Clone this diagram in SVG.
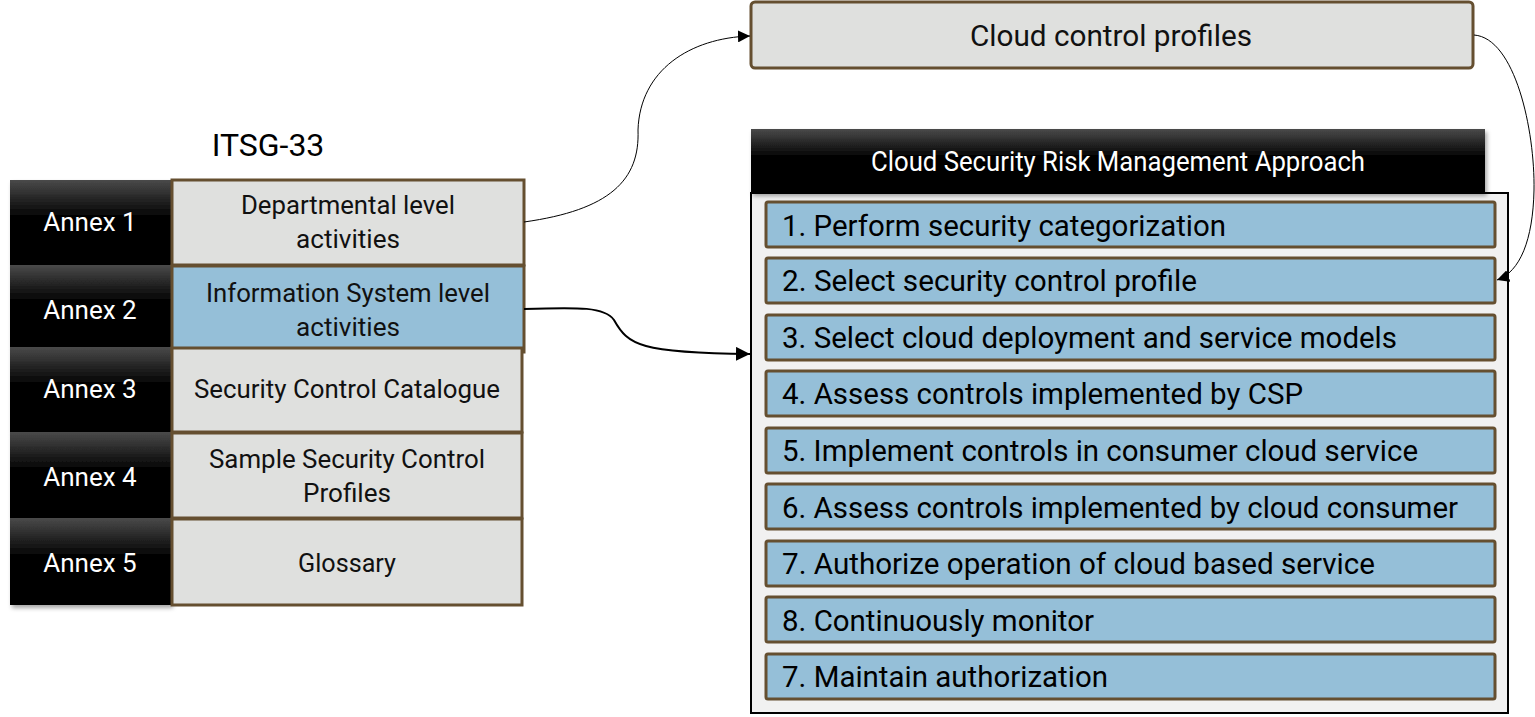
<svg xmlns="http://www.w3.org/2000/svg" width="1535" height="717" viewBox="0 0 1535 717">
<style>
text{font-family:Roboto,"Liberation Sans",sans-serif}
.an{fill:url(#gblk);filter:url(#sh)}
.at{fill:#fff;font-size:26px;text-anchor:middle}
.box{fill:#dfe0de;stroke:#654f30;stroke-width:3}
.blue{fill:#95bfd8;stroke:#654f30;stroke-width:3}
.bt{fill:#111;font-size:26px;text-anchor:middle}
.it{fill:#000;font-size:30px}
</style>
<defs>
<linearGradient id="gblk" x1="0" y1="0" x2="0" y2="1"><stop offset="0" stop-color="#4a4a4a"/><stop offset="0.45" stop-color="#000"/><stop offset="1" stop-color="#000"/></linearGradient>
<filter id="sh" x="-5%" y="-5%" width="115%" height="120%"><feDropShadow dx="2" dy="3" stdDeviation="2" flood-color="#000" flood-opacity="0.35"/></filter>
<marker id="ah" viewBox="0 0 10 10" refX="10" refY="5" markerWidth="12" markerHeight="12" markerUnits="userSpaceOnUse" orient="auto"><path d="M0,0L10,5L0,10z" fill="#000"/></marker>
<marker id="ah2" viewBox="0 0 10 10" refX="10" refY="5" markerWidth="7" markerHeight="7" markerUnits="strokeWidth" orient="auto"><path d="M0,0L10,5L0,10z" fill="#000"/></marker>
</defs>
<text x="268" y="156" font-size="32" text-anchor="middle" fill="#000">ITSG-33</text>
<g id="annex1"><rect class="an" x="10" y="180" width="161" height="85"/><text class="at" x="90" y="231">Annex 1</text></g>
<g id="annex2"><rect class="an" x="10" y="265" width="161" height="82"/><text class="at" x="90" y="319">Annex 2</text></g>
<g id="annex3"><rect class="an" x="10" y="347" width="161" height="85"/><text class="at" x="90" y="398">Annex 3</text></g>
<g id="annex4"><rect class="an" x="10" y="432" width="161" height="86"/><text class="at" x="90" y="486">Annex 4</text></g>
<g id="annex5"><rect class="an" x="10" y="518" width="161" height="87"/><text class="at" x="90" y="572">Annex 5</text></g>
<g id="dept"><rect class="box" x="172" y="180" width="352" height="85"/><text class="bt" x="348" y="214" textLength="214" lengthAdjust="spacingAndGlyphs">Departmental level</text><text class="bt" x="348" y="248" textLength="104" lengthAdjust="spacingAndGlyphs">activities</text></g>
<g id="infosys"><rect class="blue" x="172" y="266" width="352" height="86"/><text class="bt" x="348" y="302" textLength="284" lengthAdjust="spacingAndGlyphs">Information System level</text><text class="bt" x="348" y="336" textLength="104" lengthAdjust="spacingAndGlyphs">activities</text></g>
<g id="catalogue"><rect class="box" x="172" y="348" width="350" height="84"/><text class="bt" x="347" y="398" textLength="306" lengthAdjust="spacingAndGlyphs">Security Control Catalogue</text></g>
<g id="sample"><rect class="box" x="172" y="433" width="350" height="85"/><text class="bt" x="347" y="468" textLength="276" lengthAdjust="spacingAndGlyphs">Sample Security Control</text><text class="bt" x="347" y="502" textLength="88" lengthAdjust="spacingAndGlyphs">Profiles</text></g>
<g id="glossary"><rect class="box" x="172" y="519" width="350" height="86"/><text class="bt" x="347" y="572" textLength="98" lengthAdjust="spacingAndGlyphs">Glossary</text></g>
<g id="profiles"><rect class="box" x="751" y="2" width="722" height="66" rx="4"/><text x="1111" y="46" font-size="30" text-anchor="middle" fill="#111" textLength="282" lengthAdjust="spacingAndGlyphs">Cloud control profiles</text></g>
<g id="approach">
<rect x="751" y="193" width="757" height="520" fill="#f1f1f1" stroke="#000" stroke-width="2"/>
<rect x="751" y="129" width="734" height="64" fill="url(#gblk)" filter="url(#sh)"/>
<text x="1118" y="171" font-size="27" fill="#fff" text-anchor="middle" textLength="494" lengthAdjust="spacingAndGlyphs">Cloud Security Risk Management Approach</text>
</g>
<g id="step1"><rect class="blue" x="766" y="202" width="729" height="45" rx="2"/><text class="it" x="782" y="236" textLength="444" lengthAdjust="spacingAndGlyphs">1. Perform security categorization</text></g>
<g id="step2"><rect class="blue" x="766" y="258" width="729" height="45" rx="2"/><text class="it" x="782" y="291" textLength="415" lengthAdjust="spacingAndGlyphs">2. Select security control profile</text></g>
<g id="step3"><rect class="blue" x="766" y="315" width="729" height="45" rx="2"/><text class="it" x="782" y="348" textLength="615" lengthAdjust="spacingAndGlyphs">3. Select cloud deployment and service models</text></g>
<g id="step4"><rect class="blue" x="766" y="371" width="729" height="45" rx="2"/><text class="it" x="782" y="404" textLength="521" lengthAdjust="spacingAndGlyphs">4. Assess controls implemented by CSP</text></g>
<g id="step5"><rect class="blue" x="766" y="428" width="729" height="45" rx="2"/><text class="it" x="782" y="461" textLength="636" lengthAdjust="spacingAndGlyphs">5. Implement controls in consumer cloud service</text></g>
<g id="step6"><rect class="blue" x="766" y="484" width="729" height="45" rx="2"/><text class="it" x="782" y="518" textLength="676" lengthAdjust="spacingAndGlyphs">6. Assess controls implemented by cloud consumer</text></g>
<g id="step7"><rect class="blue" x="766" y="541" width="729" height="45" rx="2"/><text class="it" x="782" y="574" textLength="593" lengthAdjust="spacingAndGlyphs">7. Authorize operation of cloud based service</text></g>
<g id="step8"><rect class="blue" x="766" y="597" width="729" height="45" rx="2"/><text class="it" x="782" y="631" textLength="312" lengthAdjust="spacingAndGlyphs">8. Continuously monitor</text></g>
<g id="step9"><rect class="blue" x="766" y="654" width="729" height="45" rx="2"/><text class="it" x="782" y="687" textLength="326" lengthAdjust="spacingAndGlyphs">7. Maintain authorization</text></g>
<g id="connectors" fill="none" stroke="#000">
<path d="M524,222 C610,210 640,180 638,130 C640,70 690,38 750,36" stroke-width="1" marker-end="url(#ah)"/>
<path d="M1474,35 C1515,38 1535,130 1534,190 C1533,240 1520,272 1497,280" stroke-width="1" marker-end="url(#ah)"/>
<path d="M524,309 C580,307 605,307 614,320 C628,345 640,353 750,354" stroke-width="2" marker-end="url(#ah2)"/>
</g>
</svg>
